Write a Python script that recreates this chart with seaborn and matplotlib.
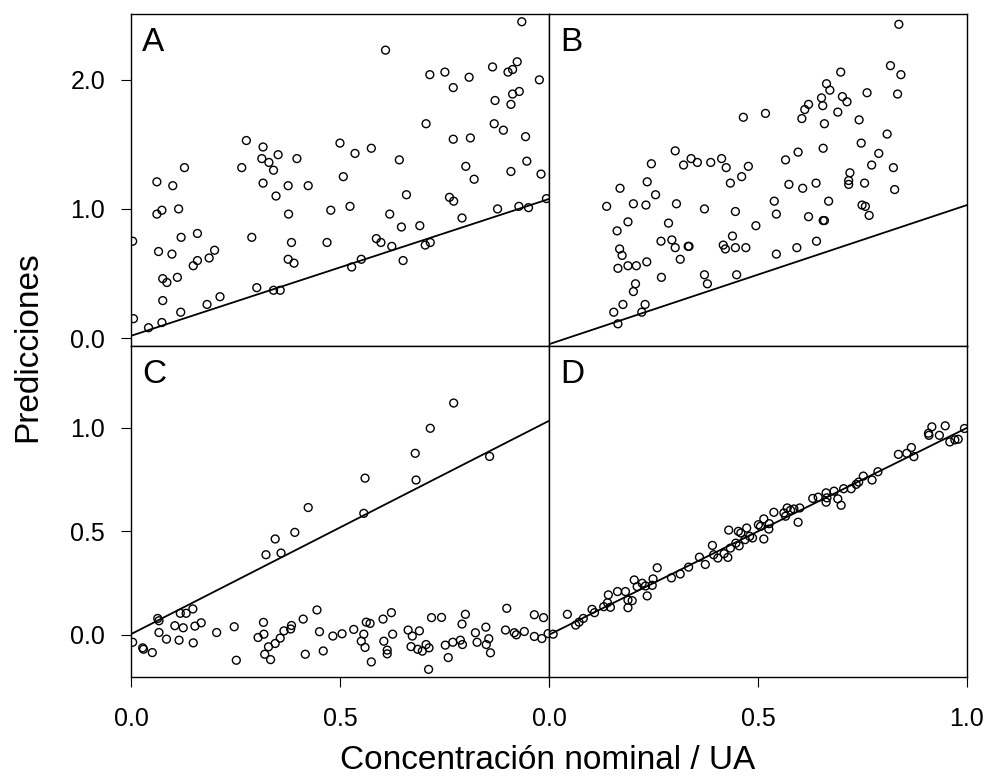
import matplotlib
matplotlib.use("Agg")
import matplotlib.pyplot as plt
import seaborn as sns

# Values (nominal concentration vs. prediction)
a_x = [0.004, 0.276, 0.316, 0.352, 0.313, 0.330, 0.341, 0.397, 0.265, 0.128,
       0.062, 0.100, 0.316, 0.376, 0.424, 0.347, 0.074, 0.062, 0.114, 0.377,
       0.478, 0.120, 0.159, 0.289, 0.066, 0.098, 0.384, 0.469, 0.200, 0.187,
       0.159, 0.149, 0.376, 0.390, 0.076, 0.086, 0.111, 0.076, 0.213, 0.182,
       0.119, 0.301, 0.341, 0.357, 0.006, 0.074, 0.042, 0.500, 0.508,
       0.935, 0.609, 0.715, 0.751, 0.771, 0.809, 0.865, 0.902, 0.913, 0.924,
       0.977, 0.871, 0.913, 0.929, 0.909, 0.706, 0.869, 0.891, 0.944, 0.771,
       0.812, 0.536, 0.575, 0.642, 0.801, 0.821, 0.909, 0.947, 0.981, 0.524,
       0.659, 0.619, 0.762, 0.772, 0.647, 0.691, 0.792, 0.877, 0.928, 0.951,
       0.994, 0.587, 0.598, 0.624, 0.704, 0.716, 0.651, 0.551, 0.528]
a_y = [0.75, 1.53, 1.48, 1.42, 1.39, 1.36, 1.30, 1.39, 1.32, 1.32,
       1.21, 1.18, 1.20, 1.18, 1.18, 1.10, 0.99, 0.96, 1.00, 0.96,
       0.99, 0.78, 0.81, 0.78, 0.67, 0.65, 0.74, 0.74, 0.68, 0.62,
       0.60, 0.56, 0.61, 0.58, 0.46, 0.43, 0.47, 0.29, 0.32, 0.26,
       0.20, 0.39, 0.37, 0.37, 0.15, 0.12, 0.08, 1.51, 1.25,
       2.45, 2.23, 2.04, 2.06, 1.94, 2.02, 2.10, 2.06, 2.08, 2.14,
       2.00, 1.84, 1.89, 1.91, 1.81, 1.66, 1.66, 1.61, 1.56, 1.54,
       1.55, 1.43, 1.47, 1.38, 1.33, 1.23, 1.29, 1.37, 1.27, 1.02,
       1.11, 0.96, 1.09, 1.06, 0.86, 0.87, 0.93, 1.00, 1.02, 1.01,
       1.08, 0.77, 0.74, 0.71, 0.72, 0.74, 0.60, 0.61, 0.55]

b_x = [0.465, 0.302, 0.245, 0.322, 0.340, 0.355, 0.387, 0.413, 0.424, 0.477,
       0.461, 0.434, 0.170, 0.235, 0.255, 0.138, 0.202, 0.232, 0.305, 0.372,
       0.446, 0.189, 0.163, 0.286, 0.495, 0.268, 0.294, 0.302, 0.333, 0.335,
       0.417, 0.422, 0.446, 0.471, 0.439, 0.169, 0.175, 0.165, 0.189, 0.209,
       0.234, 0.314, 0.269, 0.372, 0.379, 0.449, 0.207, 0.202, 0.177, 0.155,
       0.230, 0.222, 0.165,
       0.837, 0.817, 0.842, 0.698, 0.664, 0.672, 0.652, 0.702, 0.713, 0.761,
       0.834, 0.621, 0.612, 0.655, 0.691, 0.605, 0.742, 0.659, 0.518, 0.809,
       0.747, 0.656, 0.596, 0.566, 0.789, 0.772, 0.824, 0.720, 0.717, 0.717,
       0.755, 0.827, 0.574, 0.607, 0.639, 0.539, 0.669, 0.544, 0.621, 0.656,
       0.659, 0.749, 0.757, 0.766, 0.640, 0.593, 0.544]
b_y = [1.71, 1.45, 1.35, 1.34, 1.39, 1.36, 1.36, 1.39, 1.32, 1.33,
       1.25, 1.20, 1.16, 1.21, 1.11, 1.02, 1.04, 1.03, 1.04, 1.00,
       0.98, 0.90, 0.83, 0.89, 0.87, 0.75, 0.76, 0.70, 0.71, 0.71,
       0.72, 0.69, 0.70, 0.70, 0.79, 0.69, 0.64, 0.54, 0.56, 0.56,
       0.59, 0.61, 0.47, 0.49, 0.42, 0.49, 0.42, 0.36, 0.26, 0.20,
       0.26, 0.20, 0.11,
       2.43, 2.11, 2.04, 2.06, 1.97, 1.92, 1.86, 1.87, 1.83, 1.90,
       1.89, 1.81, 1.77, 1.80, 1.75, 1.70, 1.69, 1.66, 1.74, 1.58,
       1.51, 1.47, 1.44, 1.38, 1.43, 1.34, 1.32, 1.28, 1.22, 1.19,
       1.20, 1.15, 1.19, 1.16, 1.20, 1.06, 1.06, 0.96, 0.94, 0.91,
       0.91, 1.03, 1.02, 0.95, 0.75, 0.70, 0.65]

c_x = [0.424, 0.392, 0.345, 0.323, 0.359, 0.064, 0.067, 0.118, 0.132, 0.148,
       0.105, 0.125, 0.153, 0.168, 0.067, 0.085, 0.115, 0.149, 0.004, 0.028,
       0.030, 0.051, 0.205, 0.247, 0.252, 0.317, 0.318, 0.304, 0.329, 0.320,
       0.334, 0.345, 0.357, 0.366, 0.382, 0.384, 0.412, 0.445, 0.451, 0.417,
       0.460, 0.483, 0.505,
       0.772, 0.716, 0.680, 0.682, 0.560, 0.557, 0.858,
       0.533, 0.557, 0.563, 0.572, 0.551, 0.560, 0.575, 0.603, 0.623, 0.626,
       0.605, 0.613, 0.613, 0.663, 0.673, 0.670, 0.690, 0.686, 0.697, 0.706,
       0.713, 0.712, 0.719, 0.743, 0.752, 0.759, 0.770, 0.788, 0.793, 0.792,
       0.800, 0.824, 0.828, 0.849, 0.856, 0.850, 0.860, 0.899, 0.896, 0.917,
       0.922, 0.941, 0.965, 0.987, 0.965, 0.983, 0.998]
c_y = [0.615, 0.495, 0.463, 0.387, 0.395, 0.079, 0.068, 0.104, 0.104, 0.125,
       0.044, 0.034, 0.042, 0.058, 0.011, -0.021, -0.026, -0.039, -0.036, -0.063,
       -0.070, -0.086, 0.011, 0.039, -0.123, 0.060, 0.003, -0.013, -0.058, -0.094,
       -0.120, -0.042, -0.016, 0.019, 0.028, 0.045, 0.076, 0.120, 0.015, -0.094,
       -0.078, -0.006, 0.005,
       1.120, 0.998, 0.877, 0.748, 0.757, 0.587, 0.862,
       0.026, 0.003, 0.061, 0.055, -0.031, -0.061, -0.131, 0.076, 0.107, 0.003,
       -0.031, -0.074, -0.092, 0.023, -0.006, -0.057, 0.019, -0.070, -0.079, -0.047,
       -0.063, -0.167, 0.083, 0.084, -0.050, -0.110, -0.036, -0.026, -0.047, 0.052,
       0.099, 0.010, -0.036, 0.037, -0.019, -0.047, -0.087, 0.128, 0.023, 0.010,
       0.000, 0.016, 0.097, 0.083, -0.008, -0.018, 0.006]

d_x = [0.010, 0.044, 0.064, 0.072, 0.082, 0.103, 0.109, 0.131, 0.142, 0.140,
       0.147, 0.164, 0.183, 0.189, 0.199, 0.189, 0.204, 0.211, 0.223, 0.231,
       0.235, 0.249, 0.259, 0.247, 0.293, 0.314, 0.334, 0.360, 0.374, 0.391,
       0.394, 0.404, 0.419, 0.428, 0.430, 0.434, 0.447, 0.453, 0.459, 0.455,
       0.473, 0.469, 0.480, 0.487, 0.501,
       0.514, 0.514, 0.506, 0.526, 0.527, 0.538, 0.562, 0.566, 0.570, 0.578,
       0.586, 0.596, 0.600, 0.631, 0.644, 0.663, 0.665, 0.663, 0.682, 0.691,
       0.699, 0.705, 0.723, 0.735, 0.741, 0.752, 0.773, 0.787, 0.836, 0.856,
       0.867, 0.873, 0.909, 0.916, 0.934, 0.948, 0.908, 0.959, 0.971, 0.979,
       0.994]
d_y = [0.003, 0.099, 0.047, 0.061, 0.079, 0.123, 0.107, 0.136, 0.193, 0.155,
       0.133, 0.209, 0.209, 0.168, 0.165, 0.131, 0.265, 0.233, 0.249, 0.236,
       0.188, 0.270, 0.324, 0.239, 0.275, 0.294, 0.327, 0.375, 0.340, 0.432,
       0.387, 0.371, 0.392, 0.374, 0.506, 0.419, 0.443, 0.500, 0.492, 0.430,
       0.516, 0.460, 0.476, 0.468, 0.532,
       0.560, 0.463, 0.524, 0.511, 0.537, 0.592, 0.589, 0.573, 0.613, 0.602,
       0.608, 0.544, 0.613, 0.659, 0.665, 0.686, 0.662, 0.641, 0.694, 0.657,
       0.626, 0.706, 0.706, 0.727, 0.738, 0.767, 0.748, 0.788, 0.872, 0.877,
       0.905, 0.861, 0.964, 1.005, 0.964, 1.010, 0.974, 0.932, 0.942, 0.945,
       0.997]

# straight reference lines, value at x=0 and x=1
line_x = [0.0, 1.0]
a_line = [0.017, 1.077]
b_line = [-0.048, 1.030]
c_line = [0.003, 1.034]
d_line = [0.0, 1.0]

panels = ["A", "B", "C", "D"]
x_ticks = [0.0, 0.5, 1.0]
top_y_ticks = [0.0, 1.0, 2.0]
bottom_y_ticks = [0.0, 0.5, 1.0]

sns.set_style("ticks")
plt.rcParams["font.family"] = ["Liberation Sans", "DejaVu Sans"]
plt.rcParams["text.color"] = "black"

fig, axes = plt.subplots(2, 2, figsize=(9.87, 7.78), dpi=100)
fig.subplots_adjust(left=0.1327, right=0.9797, top=0.982, bottom=0.1298,
                    wspace=0, hspace=0)

data = [(a_x, a_y, a_line), (b_x, b_y, b_line),
        (c_x, c_y, c_line), (d_x, d_y, d_line)]

for ax, (xs, ys, ln), letter in zip(axes.flat, data, panels):
    sns.lineplot(x=line_x, y=ln, ax=ax, color="black", lw=1.3)
    sns.scatterplot(x=xs, y=ys, ax=ax, marker="o", s=32,
                    facecolor="none", edgecolor="black", linewidth=1.0,
                    zorder=3)
    ax.set_xlim(0, 1)
    for sp in ax.spines.values():
        sp.set_visible(True)
        sp.set_linewidth(1.0)
        sp.set_color("black")
    ax.annotate(letter, xy=(0, 1), xycoords="axes fraction",
                xytext=(11, -37), textcoords="offset pixels",
                ha="left", va="baseline", fontsize=24, color="black")
    ax.set_xlabel("")
    ax.set_ylabel("")

# top row
for ax in axes[0]:
    ax.set_ylim(-0.058, 2.51)
    ax.set_xticks([])
# bottom row
for ax in axes[1]:
    ax.set_ylim(-0.204, 1.398)
    ax.set_xticks(x_ticks)

axes[0, 0].set_yticks(top_y_ticks)
axes[0, 0].set_yticklabels(["0.0", "1.0", "2.0"])
axes[1, 0].set_yticks(bottom_y_ticks)
axes[1, 0].set_yticklabels(["0.0", "0.5", "1.0"])
axes[0, 1].set_yticks([])
axes[1, 1].set_yticks([])
axes[1, 0].set_xticklabels(["0.0", "0.5", ""])
axes[1, 1].set_xticklabels(["0.0", "0.5", "1.0"])

for ax in axes.flat:
    ax.tick_params(axis="both", length=7.2, width=0.8, color="black",
                   labelsize=18, labelcolor="black")
    ax.tick_params(axis="x", pad=14.5)
    ax.tick_params(axis="y", pad=11.5)

fig.text(28 / 987, 1 - 347 / 778, "Predicciones", rotation=90,
         ha="center", va="center", fontsize=24, color="black")
fig.text(548 / 987, 1 - 769 / 778, "Concentración nominal / UA",
         ha="center", va="baseline", fontsize=24, color="black")

fig.savefig("out.png", dpi=100)
